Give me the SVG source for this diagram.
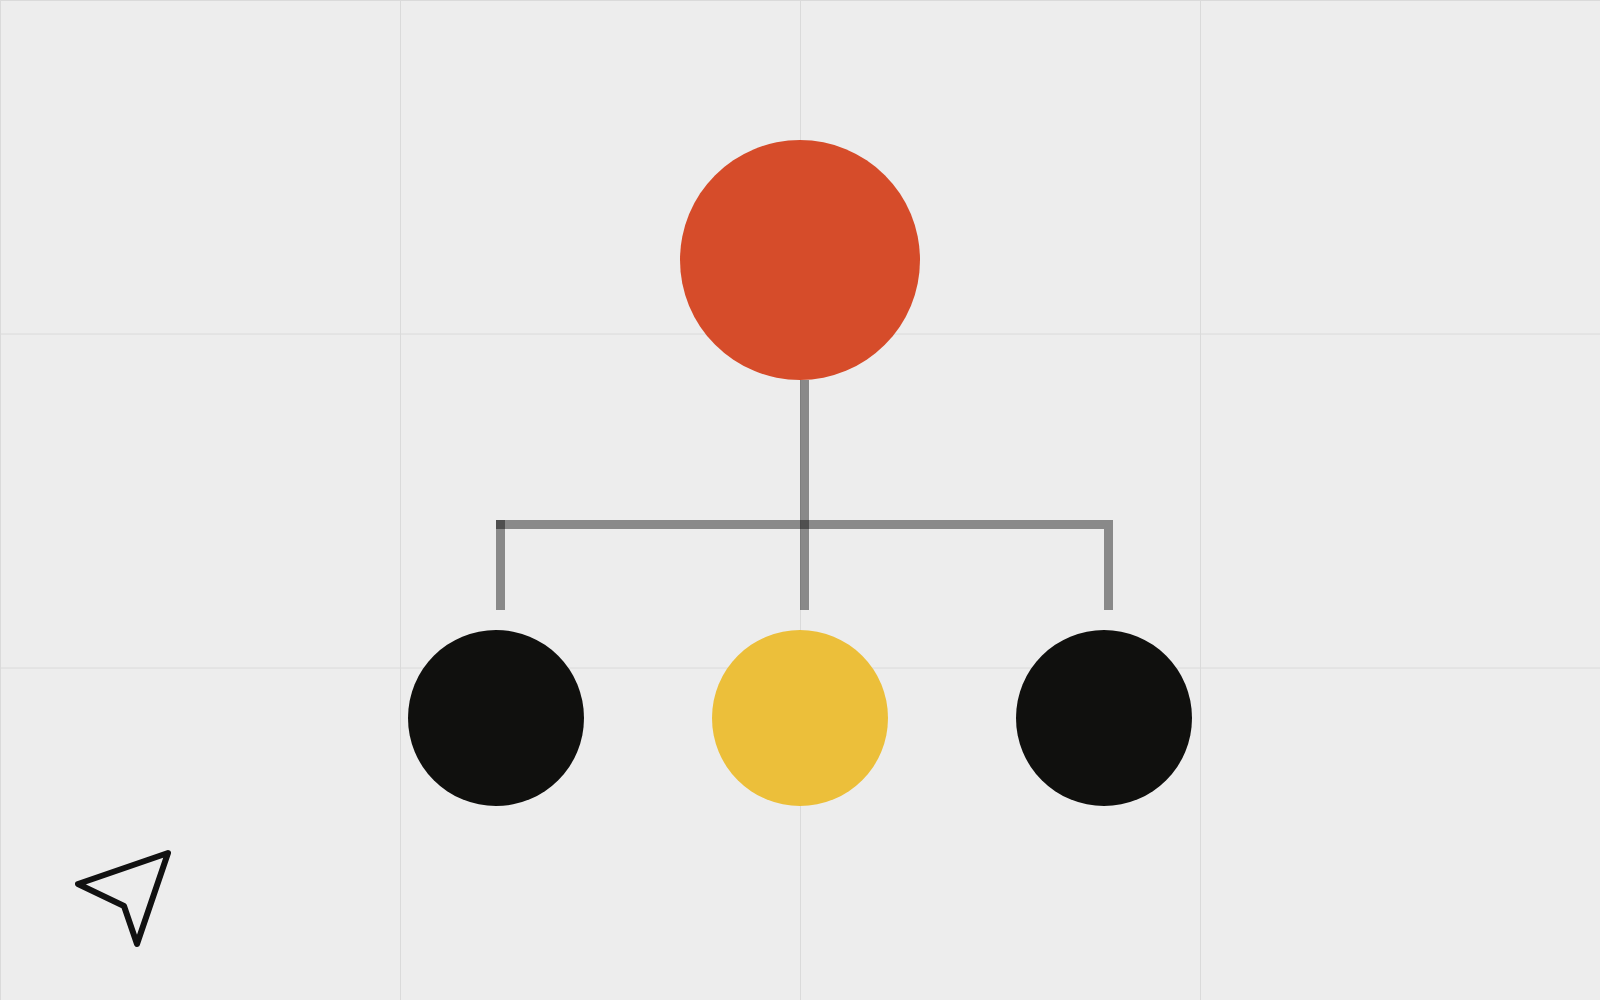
<svg xmlns="http://www.w3.org/2000/svg" width="1600" height="1000" viewBox="0 0 1600 1000">
<style>
.grid{stroke:#dadada;stroke-width:1;fill:none}
.conn{fill:#000;fill-opacity:0.42}
.dark{fill:#10100e}
</style>
<rect width="1600" height="1000" fill="#ededed"/>
<g id="grid">
<line class="grid" x1="0.5" y1="0" x2="0.5" y2="1000"/>
<line class="grid" x1="400.5" y1="0" x2="400.5" y2="1000"/>
<line class="grid" x1="800.5" y1="0" x2="800.5" y2="1000"/>
<line class="grid" x1="1200.5" y1="0" x2="1200.5" y2="1000"/>
<line class="grid" x1="0" y1="0.5" x2="1600" y2="0.5"/>
<line class="grid" x1="0" y1="334" x2="1600" y2="334"/>
<line class="grid" x1="0" y1="668" x2="1600" y2="668"/>
</g>
<g id="connectors">
<rect class="conn" x="800" y="380" width="9" height="230"/>
<rect class="conn" x="496" y="520" width="617" height="9"/>
<rect class="conn" x="496" y="520" width="9" height="90"/>
<rect class="conn" x="1104" y="529" width="9" height="81"/>
</g>
<g id="root"><circle cx="800" cy="260" r="120" fill="#d64c2a"/></g>
<g id="child-left"><circle class="dark" cx="496" cy="718" r="88"/></g>
<g id="child-middle"><circle cx="800" cy="718" r="88" fill="#ecbf3a"/></g>
<g id="child-right"><circle class="dark" cx="1104" cy="718" r="88"/></g>
<g id="cursor"><path d="M168,853 L78,884 L124,906 L137,944 Z" fill="none" stroke="#111" stroke-width="6" stroke-linejoin="round"/></g>
</svg>
